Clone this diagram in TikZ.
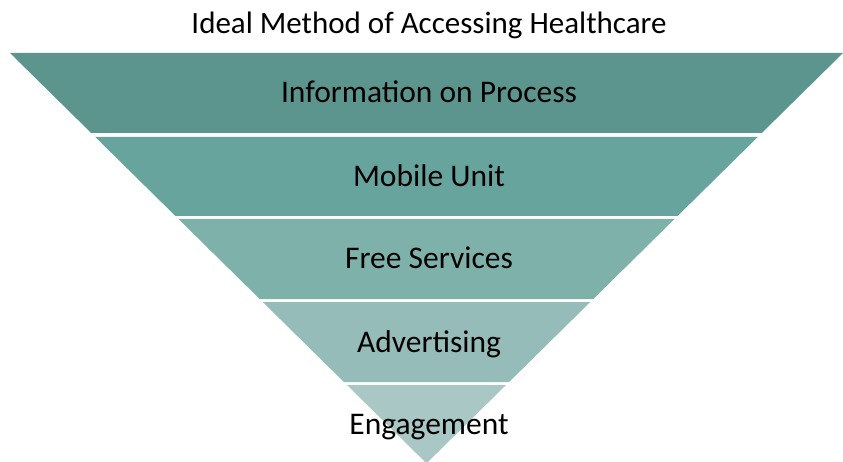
\documentclass[tikz,border=0pt]{standalone}
\usepackage{fontspec}
\setmainfont{Carlito}
\definecolor{bandA}{HTML}{5B958E}
\definecolor{bandB}{HTML}{68A49E}
\definecolor{bandC}{HTML}{7FB1AB}
\definecolor{bandD}{HTML}{95BCB8}
\definecolor{bandE}{HTML}{A9C8C5}
\tikzset{bandlabel/.style={font=\fontsize{31.5}{36}\selectfont,inner sep=0pt,anchor=base}}
\tikzset{titlelabel/.style={font=\fontsize{31}{36}\selectfont,inner sep=0pt,anchor=base}}
\begin{document}
\begin{tikzpicture}
  [x=1pt,y=-1pt]
\useasboundingbox (0,0) rectangle (843,462);
\node[titlelabel] (title) at (429,34) {Ideal Method of Accessing Healthcare};
% funnel bands, top to bottom
\foreach \top/\bot/\col/\txt/\nm in {53/133/bandA/Information on Process/info,
  137/216/bandB/Mobile Unit/mobile,
  219/299/bandC/Free Services/free,
  302/382/bandD/Advertising/advert,
  385/463.3/bandE/Engagement/engage}
{
  \pgfmathsetmacro{\lt}{10+(\top-53)*1.015}
  \pgfmathsetmacro{\rt}{843-(\top-53)*1.015}
  \pgfmathsetmacro{\lb}{10+(\bot-53)*1.015}
  \pgfmathsetmacro{\rb}{843-(\bot-53)*1.015}
  \fill[\col] (\lt,\top) -- (\rt,\top) -- (\rb,\bot) -- (\lb,\bot) -- cycle;
  \node[bandlabel] (\nm) at (429,{(\top+\bot)/2+10}) {\txt};
}
\end{tikzpicture}
\end{document}
